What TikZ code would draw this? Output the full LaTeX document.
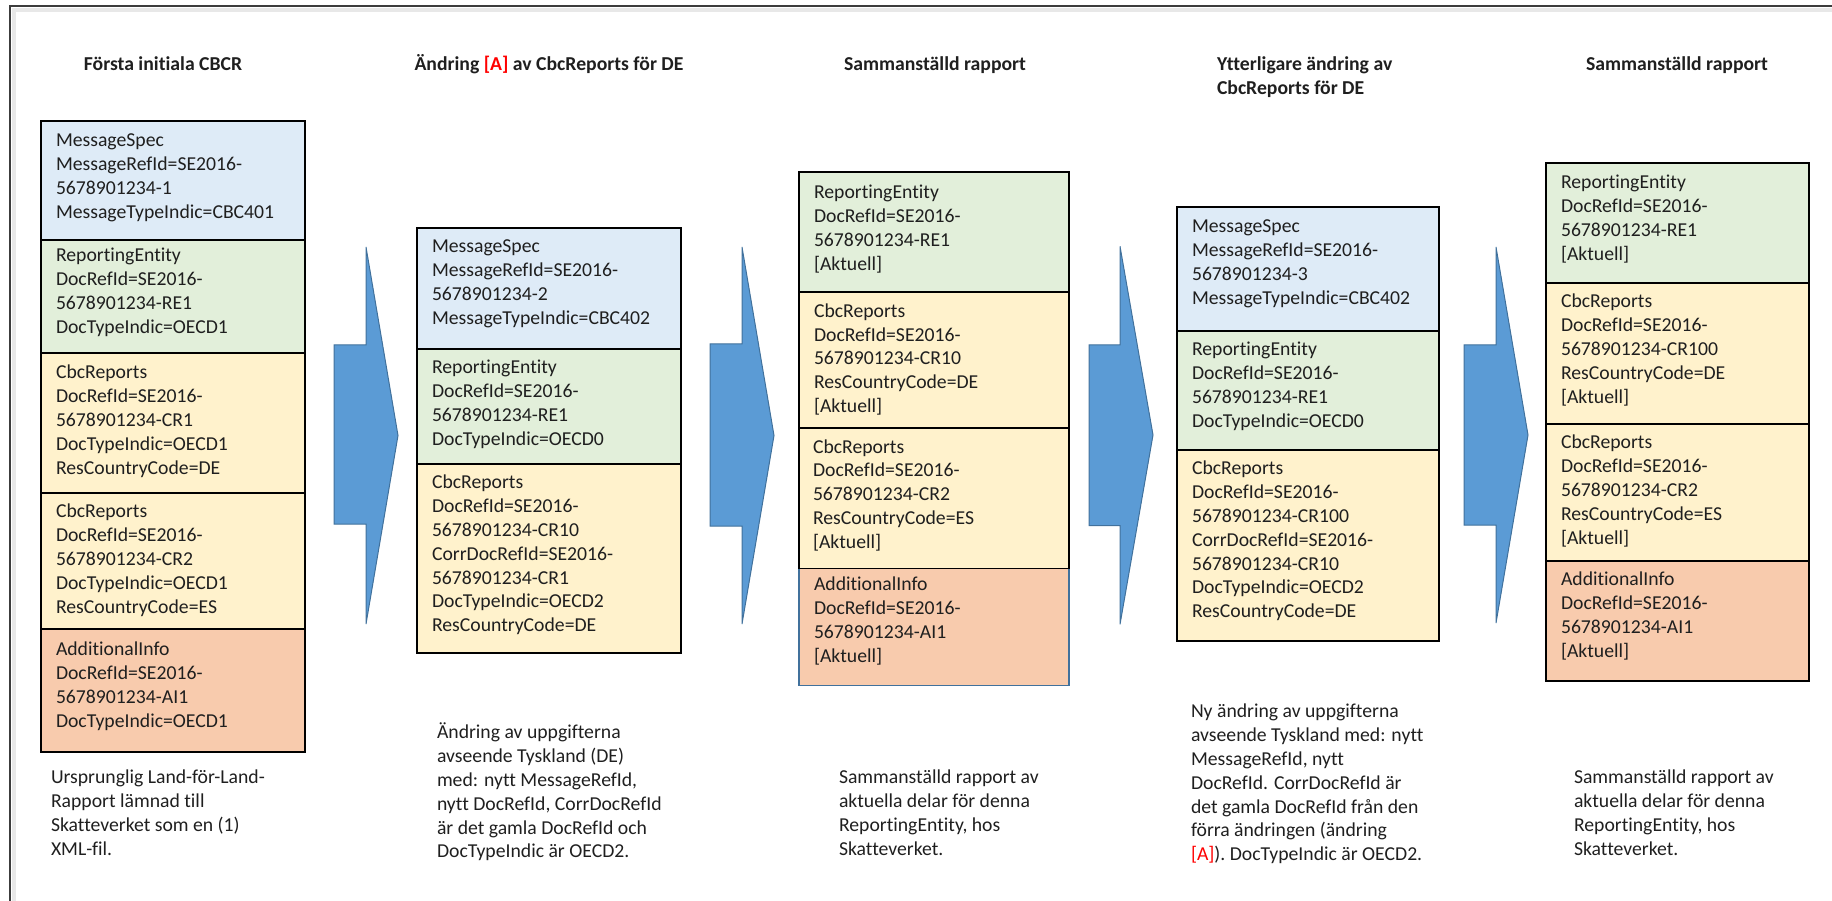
\documentclass[tikz,border=0pt]{standalone}
\usepackage{fontspec}
\setmainfont{Carlito}[Ligatures=NoCommon]
\definecolor{msblue}{RGB}{222,235,247}
\definecolor{regreen}{RGB}{226,239,218}
\definecolor{cryellow}{RGB}{255,242,204}
\definecolor{aiorange}{RGB}{248,203,173}
\definecolor{arrowfill}{RGB}{91,155,213}
\definecolor{arrowline}{RGB}{65,113,156}
\definecolor{redA}{RGB}{255,0,0}
\definecolor{framegray}{RGB}{60,60,60}
\begin{document}
\begin{tikzpicture}[x=1pt,y=-1pt,
  sec/.style={draw=black,line width=1.8pt,anchor=north west,inner sep=0pt,outer sep=0pt},
  txt/.style={anchor=north west,inner sep=0pt,outer sep=0pt,align=left,font=\fontsize{19.7}{23.8}\selectfont,text=black!88},
  ttl/.style={anchor=base,inner sep=0pt,outer sep=0pt,font=\fontsize{19.7}{23.8}\selectfont\bfseries,text=black!88},
  blockarrow/.style={fill=arrowfill,draw=arrowline,line width=1pt,line join=miter}]
\useasboundingbox (0,0) rectangle (1832,901);
% frame
\draw[gray!18,line width=4pt] (14,901) -- (14,10) -- (1832,10);
\draw[framegray,line width=1.5pt] (10,901) -- (10,6) -- (1832,6);

% titles
\node[ttl] (h1) at (163,71) {Första initiala CBCR};
\node[ttl] (h2) at (549,71) {Ändring {\color{redA}[A]} av CbcReports för DE};
\node[ttl] (h3) at (935,71) {Sammanställd rapport};
\node[ttl,anchor=north west,align=left] (h4) at (1217,54.3) {\strut Ytterligare ändring av\\CbcReports för DE};
\node[ttl] (h5) at (1677,71) {Sammanställd rapport};

% ---------- box 1
\node[sec,fill=msblue,minimum width=264pt,minimum height=119pt] (b1ms) at (41,121) {};
\node[sec,fill=regreen,minimum width=264pt,minimum height=113pt] (b1re) at (41,240) {};
\node[sec,fill=cryellow,minimum width=264pt,minimum height=140pt] (b1c1) at (41,353) {};
\node[sec,fill=cryellow,minimum width=264pt,minimum height=136pt] (b1c2) at (41,493) {};
\node[sec,fill=aiorange,minimum width=264pt,minimum height=123pt] (b1ai) at (41,629) {};
\node[txt] (t1ms) at ([shift={(15,9.3)}]b1ms.north west) {\strut MessageSpec\\MessageRefId=SE2016-\\5678901234-1\\MessageTypeIndic=CBC401};
\node[txt] (t1re) at ([shift={(15,5.3)}]b1re.north west) {\strut ReportingEntity\\DocRefId=SE2016-\\5678901234-RE1\\DocTypeIndic=OECD1};
\node[txt] (t1c1) at ([shift={(15,9.3)}]b1c1.north west) {\strut CbcReports\\DocRefId=SE2016-\\5678901234-CR1\\DocTypeIndic=OECD1\\ResCountryCode=DE};
\node[txt] (t1c2) at ([shift={(15,8.3)}]b1c2.north west) {\strut CbcReports\\DocRefId=SE2016-\\5678901234-CR2\\DocTypeIndic=OECD1\\ResCountryCode=ES};
\node[txt] (t1ai) at ([shift={(15,10.3)}]b1ai.north west) {\strut AdditionalInfo\\DocRefId=SE2016-\\5678901234-AI1\\DocTypeIndic=OECD1};

% ---------- box 2
\node[sec,fill=msblue,minimum width=264pt,minimum height=121pt] (b2ms) at (417,228) {};
\node[sec,fill=regreen,minimum width=264pt,minimum height=115pt] (b2re) at (417,349) {};
\node[sec,fill=cryellow,minimum width=264pt,minimum height=189pt] (b2cr) at (417,464) {};
\node[txt] (t2ms) at ([shift={(15,8.3)}]b2ms.north west) {\strut MessageSpec\\MessageRefId=SE2016-\\5678901234-2\\MessageTypeIndic=CBC402};
\node[txt] (t2re) at ([shift={(15,8.3)}]b2re.north west) {\strut ReportingEntity\\DocRefId=SE2016-\\5678901234-RE1\\DocTypeIndic=OECD0};
\node[txt] (t2cr) at ([shift={(15,8.3)}]b2cr.north west) {\strut CbcReports\\DocRefId=SE2016-\\5678901234-CR10\\CorrDocRefId=SE2016-\\5678901234-CR1\\DocTypeIndic=OECD2\\ResCountryCode=DE};

% ---------- box 3
\node[sec,draw=arrowline,line width=1.3pt,fill=aiorange,minimum width=270pt,minimum height=117pt] (b3ai) at (799,568.5) {};
\node[sec,fill=regreen,minimum width=270pt,minimum height=120.5pt] (b3re) at (799,171.7) {};
\node[sec,fill=cryellow,minimum width=270pt,minimum height=135.9pt] (b3c1) at (799,292.2) {};
\node[sec,fill=cryellow,minimum width=270pt,minimum height=140.4pt] (b3c2) at (799,428.1) {};
\node[txt] (t3re) at ([shift={(15,10.3)}]b3re.north west) {\strut ReportingEntity\\DocRefId=SE2016-\\5678901234-RE1\\{}[Aktuell]};
\node[txt] (t3c1) at ([shift={(15,8.5)}]b3c1.north west) {\strut CbcReports\\DocRefId=SE2016-\\5678901234-CR10\\ResCountryCode=DE\\{}[Aktuell]};
\node[txt] (t3c2) at ([shift={(14,8.4)}]b3c2.north west) {\strut CbcReports\\DocRefId=SE2016-\\5678901234-CR2\\ResCountryCode=ES\\{}[Aktuell]};
\node[txt] (t3ai) at ([shift={(15,5.8)}]b3ai.north west) {\strut AdditionalInfo\\DocRefId=SE2016-\\5678901234-AI1\\{}[Aktuell]};

% ---------- box 4
\node[sec,fill=msblue,minimum width=262pt,minimum height=124pt] (b4ms) at (1177,207) {};
\node[sec,fill=regreen,minimum width=262pt,minimum height=119pt] (b4re) at (1177,331) {};
\node[sec,fill=cryellow,minimum width=262pt,minimum height=191pt] (b4cr) at (1177,450) {};
\node[txt] (t4ms) at ([shift={(15,9.3)}]b4ms.north west) {\strut MessageSpec\\MessageRefId=SE2016-\\5678901234-3\\MessageTypeIndic=CBC402};
\node[txt] (t4re) at ([shift={(15,8.3)}]b4re.north west) {\strut ReportingEntity\\DocRefId=SE2016-\\5678901234-RE1\\DocTypeIndic=OECD0};
\node[txt] (t4cr) at ([shift={(15,8.3)}]b4cr.north west) {\strut CbcReports\\DocRefId=SE2016-\\5678901234-CR100\\CorrDocRefId=SE2016-\\5678901234-CR10\\DocTypeIndic=OECD2\\ResCountryCode=DE};

% ---------- box 5
\node[sec,fill=regreen,minimum width=263pt,minimum height=120pt] (b5re) at (1546,163) {};
\node[sec,fill=cryellow,minimum width=263pt,minimum height=141pt] (b5c1) at (1546,283) {};
\node[sec,fill=cryellow,minimum width=263pt,minimum height=137pt] (b5c2) at (1546,424) {};
\node[sec,fill=aiorange,minimum width=263pt,minimum height=120pt] (b5ai) at (1546,561) {};
\node[txt] (t5re) at ([shift={(15,9.3)}]b5re.north west) {\strut ReportingEntity\\DocRefId=SE2016-\\5678901234-RE1\\{}[Aktuell]};
\node[txt] (t5c1) at ([shift={(15,8.3)}]b5c1.north west) {\strut CbcReports\\DocRefId=SE2016-\\5678901234-CR100\\ResCountryCode=DE\\{}[Aktuell]};
\node[txt] (t5c2) at ([shift={(15,8.3)}]b5c2.north west) {\strut CbcReports\\DocRefId=SE2016-\\5678901234-CR2\\ResCountryCode=ES\\{}[Aktuell]};
\node[txt] (t5ai) at ([shift={(15,8.3)}]b5ai.north west) {\strut AdditionalInfo\\DocRefId=SE2016-\\5678901234-AI1\\{}[Aktuell]};

% ---------- block arrows
\draw[blockarrow] (334,345) -- (366,345) -- (366,247) -- (398,435.5) -- (366,624) -- (366,524) -- (334,524) -- cycle;
\draw[blockarrow] (710,344) -- (742,344) -- (742,247) -- (774,435.5) -- (742,624) -- (742,526) -- (710,526) -- cycle;
\draw[blockarrow] (1089,345) -- (1120,345) -- (1120,246.3) -- (1153,435) -- (1120,624.4) -- (1120,525.7) -- (1089,525.7) -- cycle;
\draw[blockarrow] (1464,345) -- (1496,345) -- (1496,247) -- (1528,435) -- (1496,623) -- (1496,525) -- (1464,525) -- cycle;

% ---------- descriptions
\node[txt] (d1) at (51,767.3) {\strut Ursprunglig Land-för-Land-\\Rapport lämnad till\\Skatteverket som en (1)\\XML-fil.};
\node[txt] (d2) at (437,722.3) {\strut Ändring av uppgifterna\\avseende Tyskland (DE)\\med: nytt MessageRefId,\\nytt DocRefId, CorrDocRefId\\är det gamla DocRefId och\\DocTypeIndic är OECD2.};
\node[txt] (d3) at (839,767.3) {\strut Sammanställd rapport av\\aktuella delar för denna\\ReportingEntity, hos\\Skatteverket.};
\node[txt] (d4) at (1191,701.3) {\strut Ny ändring av uppgifterna\\avseende Tyskland med: nytt\\MessageRefId, nytt\\DocRefId. CorrDocRefId är\\det gamla DocRefId från den\\förra ändringen (ändring\\{\color{redA}[A]}). DocTypeIndic är OECD2.};
\node[txt] (d5) at (1574,767.3) {\strut Sammanställd rapport av\\aktuella delar för denna\\ReportingEntity, hos\\Skatteverket.};
\end{tikzpicture}
\end{document}
